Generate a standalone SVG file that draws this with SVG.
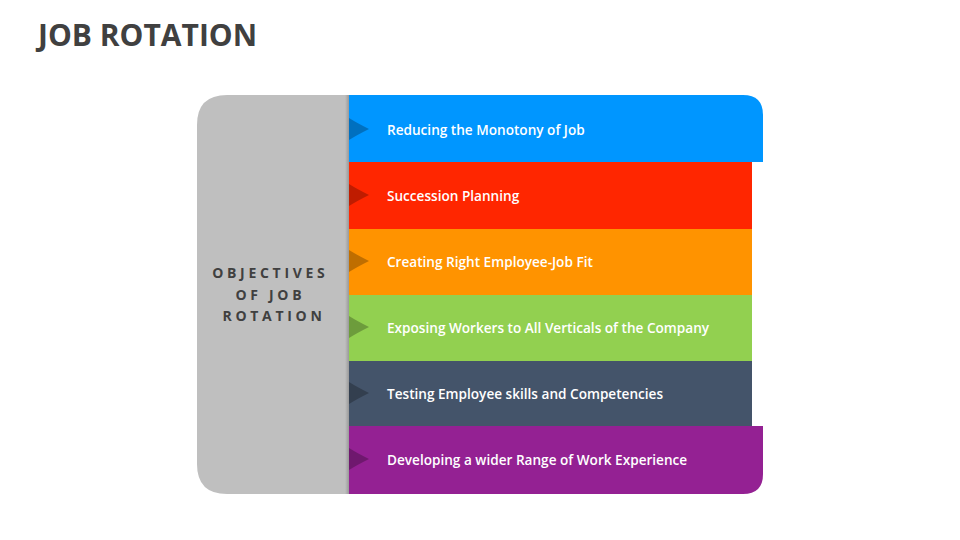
<svg xmlns="http://www.w3.org/2000/svg" width="960" height="540" viewBox="0 0 960 540">
<defs>
<style>
.title{font-family:"Open Sans","Liberation Sans",sans-serif;font-weight:700;font-size:30px;fill:#404040}
.center{font-family:"Open Sans","Liberation Sans",sans-serif;font-weight:700;font-size:14px;fill:#404040;letter-spacing:3.7px}
.lbl{font-family:"Open Sans","Liberation Sans",sans-serif;font-weight:600;font-size:13.6px;fill:#ffffff}
.notch{opacity:0.25;fill:#000}
</style>
<linearGradient id="sh" x1="0" x2="1" y1="0" y2="0">
<stop offset="0" stop-color="#000" stop-opacity="0"/>
<stop offset="1" stop-color="#000" stop-opacity="0.2"/>
</linearGradient>
<path id="nt" d="M0,-11 Q8,-6 20,0 Q8,6 0,11 Z"/>
</defs>
<rect width="960" height="540" fill="#ffffff"/>
<text class="title" x="38" y="46">JOB ROTATION</text>

<g id="band1">
<path d="M349,95 H743 Q763,95 763,115 V162 H349 Z" fill="#0096FF"/>
<use href="#nt" x="349" y="129" class="notch"/>
<text class="lbl" x="387" y="135">Reducing the Monotony of Job</text>
</g>
<g id="band2">
<rect x="349" y="162" width="403" height="67" fill="#FF2600"/>
<use href="#nt" x="349" y="195" class="notch"/>
<text class="lbl" x="387" y="201">Succession Planning</text>
</g>
<g id="band3">
<rect x="349" y="229" width="403" height="66" fill="#FF9300"/>
<use href="#nt" x="349" y="261" class="notch"/>
<text class="lbl" x="387" y="267">Creating Right Employee-Job Fit</text>
</g>
<g id="band4">
<rect x="349" y="295" width="403" height="66" fill="#92D050"/>
<use href="#nt" x="349" y="327" class="notch"/>
<text class="lbl" x="387" y="333">Exposing Workers to All Verticals of the Company</text>
</g>
<g id="band5">
<rect x="349" y="361" width="403" height="65" fill="#44546A"/>
<use href="#nt" x="349" y="393" class="notch"/>
<text class="lbl" x="387" y="399">Testing Employee skills and Competencies</text>
</g>
<g id="band6">
<path d="M349,426 H763 V474 Q763,494 743,494 H349 Z" fill="#942193"/>
<use href="#nt" x="349" y="459" class="notch"/>
<text class="lbl" x="387" y="465">Developing a wider Range of Work Experience</text>
</g>

<g id="panel">
<path d="M227,95 H349 V494 H227 Q197,494 197,464 V125 Q197,95 227,95 Z" fill="#BFBFBF"/>
<rect x="345" y="95" width="4" height="399" fill="url(#sh)"/>
<text class="center" text-anchor="middle">
<tspan x="274" y="278">OBJECTIVES</tspan>
<tspan x="274" y="300">OF JOB</tspan>
<tspan x="274" y="321">ROTATION</tspan>
</text>
</g>
<g id="connectors"/>
</svg>
